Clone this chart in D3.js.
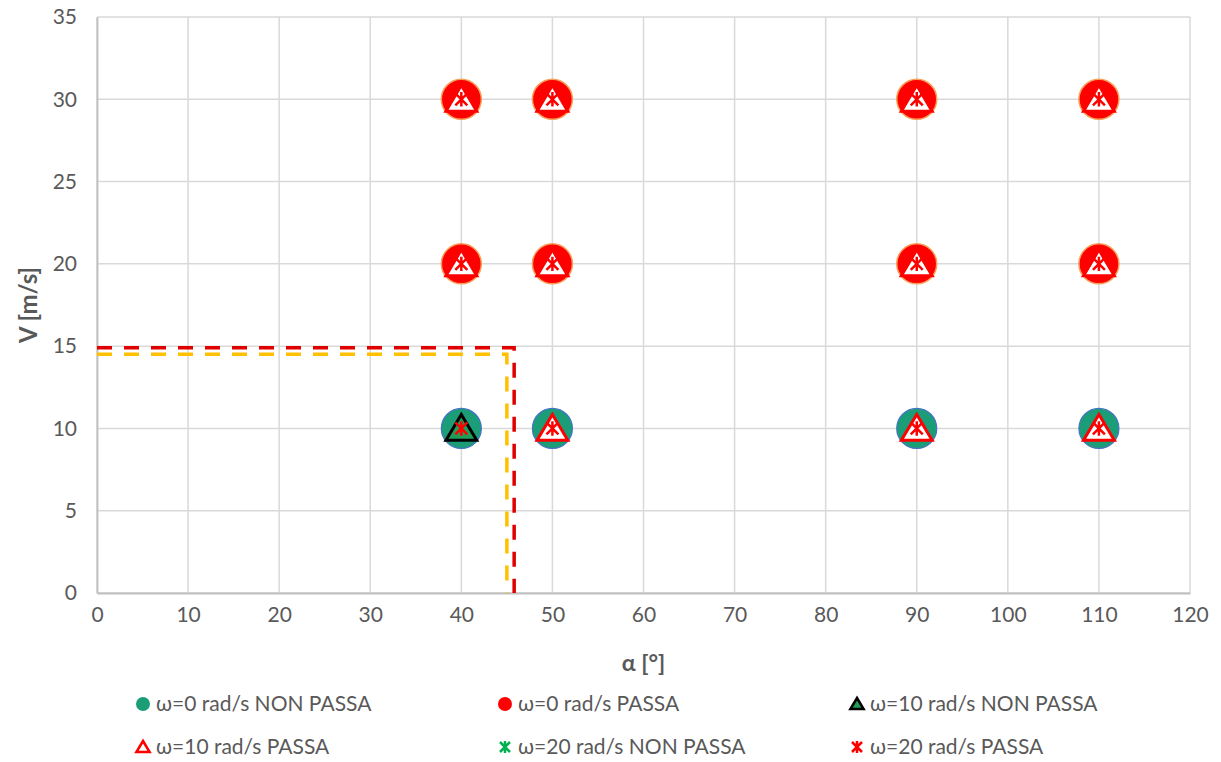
<!DOCTYPE html>
<html>
<head>
<meta charset="utf-8">
<script src="https://cdn.jsdelivr.net/npm/d3@7"></script>
<style>
  html, body { margin: 0; padding: 0; background: #fff; }
  svg text { font-family: Lato, "Open Sans", sans-serif; fill: #595959; }
</style>
</head>
<body>
<svg id="chart" width="1221" height="762"></svg>
<script>
// Axis ticks
const alphaTicks = [0, 10, 20, 30, 40, 50, 60, 70, 80, 90, 100, 110, 120];
const speedTicks = [0, 5, 10, 15, 20, 25, 30, 35];

// Test points [alpha (°), V (m/s)] per angular speed and outcome
const omega0Fail  = [[40, 10], [50, 10], [90, 10], [110, 10]];
const omega0Pass  = [[40, 20], [40, 30], [50, 20], [50, 30], [90, 20], [90, 30], [110, 20], [110, 30]];
const omega10Fail = [[40, 10]];
const omega10Pass = [[50, 10], [90, 10], [110, 10], [40, 20], [40, 30], [50, 20], [50, 30], [90, 20], [90, 30], [110, 20], [110, 30]];
const omega20Fail = [];
const omega20Pass = [[40, 10], [50, 10], [90, 10], [110, 10], [40, 20], [40, 30], [50, 20], [50, 30], [90, 20], [90, 30], [110, 20], [110, 30]];

// Threshold boundaries (dashed)
const limitYellow = [[0, 14.5], [45, 14.5], [45, 0]];
const limitRed    = [[0, 14.9], [45.8, 14.9], [45.8, 0]];

// Legend entries
const legendLabels = [
  "ω=0 rad/s NON PASSA", "ω=0 rad/s PASSA", "ω=10 rad/s NON PASSA",
  "ω=10 rad/s PASSA", "ω=20 rad/s NON PASSA", "ω=20 rad/s PASSA"
];

const svg = d3.select("#chart");
const margin = { left: 97, top: 17, right: 1190, bottom: 593 };

const x = d3.scaleLinear().domain([0, 120]).range([margin.left, margin.right]);
const y = d3.scaleLinear().domain([0, 35]).range([margin.bottom, margin.top]);

// Grid
const grid = svg.append("g");
grid.selectAll("line.v").data(alphaTicks).join("line")
  .attr("x1", d => x(d)).attr("x2", d => x(d))
  .attr("y1", y(0)).attr("y2", y(35))
  .attr("stroke", "#d9d9d9").attr("stroke-width", 1.5);
grid.selectAll("line.h").data(speedTicks).join("line")
  .attr("x1", x(0)).attr("x2", x(120))
  .attr("y1", d => y(d)).attr("y2", d => y(d))
  .attr("stroke", "#d9d9d9").attr("stroke-width", 1.5);

// Axes
const xAxis = svg.append("g").attr("transform", `translate(0,${y(0)})`)
  .call(d3.axisBottom(x).tickValues(alphaTicks).tickSize(0).tickPadding(14));
const yAxis = svg.append("g").attr("transform", `translate(${x(0)},0)`)
  .call(d3.axisLeft(y).tickValues(speedTicks).tickSize(0).tickPadding(20));
[xAxis, yAxis].forEach(a => {
  a.select(".domain").attr("stroke", "#bfbfbf").attr("stroke-width", 1.8);
  a.selectAll("text").attr("font-size", 21).attr("fill", "#595959")
    .style("font-family", "Lato, 'Open Sans', sans-serif");
});

// Axis titles
svg.append("text").attr("x", x(60)).attr("y", 671)
  .attr("text-anchor", "middle").attr("font-size", 23).attr("font-weight", "bold")
  .text("α [°]");
svg.append("text")
  .attr("transform", `translate(37,${y(17.5)}) rotate(-90)`)
  .attr("text-anchor", "middle").attr("font-size", 24).attr("font-weight", "bold")
  .text("V [m/s]");

// Dashed limit lines
const line = d3.line().x(d => x(d[0])).y(d => y(d[1]));
svg.append("path").datum(limitYellow).attr("d", line)
  .attr("fill", "none").attr("stroke", "#ffc000").attr("stroke-width", 3.5)
  .attr("stroke-dasharray", "15 12");
svg.append("path").datum(limitRed).attr("d", line)
  .attr("fill", "none").attr("stroke", "#e00000").attr("stroke-width", 3.5)
  .attr("stroke-dasharray", "15 12");

// Marker shapes
function triPath(s) {
  return `M0,${-s * 1.0}L${s * 1.1},${s * 0.85}L${-s * 1.1},${s * 0.85}Z`;
}
function starPath(s) {
  return `M${-s},${-s}L${s},${s}M${s},${-s}L${-s},${s}M0,${-s * 1.2}L0,${s * 1.2}`;
}

const styles = [
  { shape: "circle", fill: "#1b9e77", stroke: "#4472c4", sw: 1.2 },
  { shape: "circle", fill: "#ff0000", stroke: "#f5a05a", sw: 1.5 },
  { shape: "tri", fill: "#1f9e5a", stroke: "#000000", sw: 3 },
  { shape: "tri", fill: "#ffffff", stroke: "#ff0000", sw: 3 },
  { shape: "star", fill: "none", stroke: "#00b050", sw: 2.5 },
  { shape: "star", fill: "none", stroke: "#ff0000", sw: 2.5 }
];
const seriesData = [omega0Fail, omega0Pass, omega10Fail, omega10Pass, omega20Fail, omega20Pass];

function drawMarker(g, st, size) {
  if (st.shape === "circle") {
    g.append("circle").attr("r", size).attr("fill", st.fill)
      .attr("stroke", st.stroke).attr("stroke-width", st.sw);
  } else if (st.shape === "tri") {
    g.append("path").attr("d", triPath(size)).attr("fill", st.fill)
      .attr("stroke", st.stroke).attr("stroke-width", st.sw).attr("stroke-linejoin", "miter");
  } else {
    g.append("path").attr("d", starPath(size)).attr("fill", "none")
      .attr("stroke", st.stroke).attr("stroke-width", st.sw);
  }
}

const markerSize = [20, 20, 14, 14, 6, 6];
seriesData.forEach((data, i) => {
  const layer = svg.append("g");
  layer.selectAll("g").data(data).join("g")
    .attr("transform", d => `translate(${x(d[0])},${y(d[1])})`)
    .each(function () { drawMarker(d3.select(this), styles[i], markerSize[i]); });
});

// Legend
const legendCols = [143, 505, 857];
const legendRows = [704, 747];
const legendSize = [7, 7, 6, 6, 5, 5];
legendLabels.forEach((lab, i) => {
  const gx = legendCols[i % 3], gy = legendRows[Math.floor(i / 3)];
  const g = svg.append("g").attr("transform", `translate(${gx},${gy})`);
  const st = Object.assign({}, styles[i], { sw: styles[i].shape === "circle" ? 0 : 2.5 });
  drawMarker(g, st, legendSize[i]);
  svg.append("text").attr("x", gx + 13).attr("y", gy + 7)
    .attr("font-size", 21).text(lab);
});
</script>
</body>
</html>
